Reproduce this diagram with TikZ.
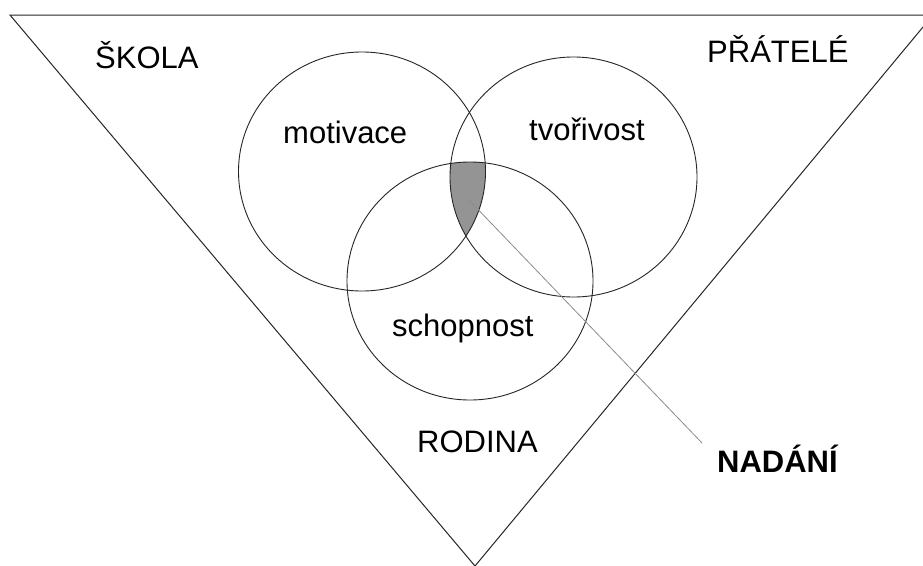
\documentclass[tikz,border=0pt]{standalone}
\usepackage{fontspec}
\setmainfont{Liberation Sans}
\begin{document}
\begin{tikzpicture}[x=1pt,y=-1pt,
  lbl/.style={anchor=base west,inner sep=0pt,font=\fontsize{31}{36}\selectfont},
  ring/.style={draw=black!85,line width=0.9pt},
  edge/.style={draw=black!85,line width=1pt}]
\clip (0,0) rectangle (923,565);
\fill[white] (0,0) rectangle (923,565);
% triangle
\draw[edge,line join=miter] (10,15) -- (933,15) -- (475,566) -- cycle;
% intersection of the three circles
\begin{scope}
  \clip (362,171.5) ellipse [x radius=123.5, y radius=119.5];
  \clip (573.5,177) ellipse [x radius=123.5, y radius=120];
  \fill[black!42] (470,281) ellipse [x radius=123, y radius=119];
\end{scope}
% circles
\draw[ring] (362,171.5) ellipse [x radius=123.5, y radius=119.5];
\draw[ring] (573.5,177) ellipse [x radius=123.5, y radius=120];
\draw[ring] (470,281) ellipse [x radius=123, y radius=119];
% labels
\node[lbl] (skola) at (95,68) {ŠKOLA};
\node[lbl] (pratele) at (707,62) {PŘÁTELÉ};
\node[lbl] (motivace) at (283,143) {motivace};
\node[lbl] (tvorivost) at (529,140) {tvořivost};
\node[lbl] (schopnost) at (392,336) {schopnost};
\node[lbl] (rodina) at (417,452) {RODINA};
\node[lbl,font=\fontsize{31}{36}\selectfont\bfseries] (nadani) at (717,472) {NADÁNÍ};
% pointer
\coordinate (tip) at (468,199);
\coordinate (tail) at (702,443);
\draw[black!45,line width=0.8pt] (tip) -- (tail);
\end{tikzpicture}
\end{document}
